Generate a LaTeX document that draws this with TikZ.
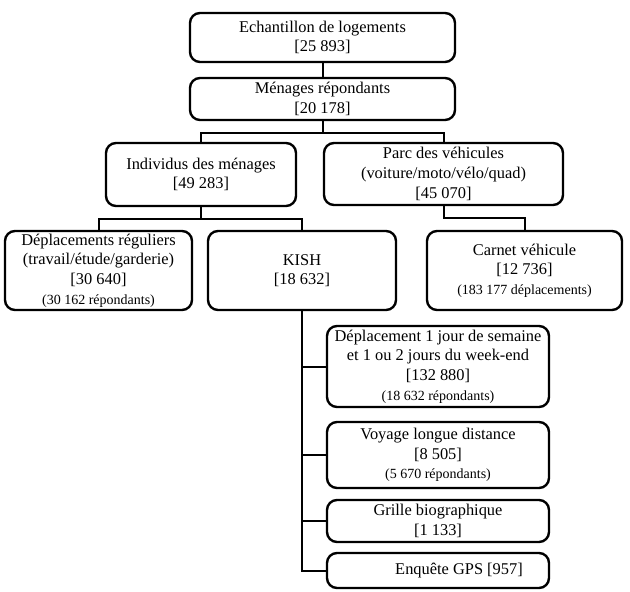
\documentclass[tikz,border=0pt]{standalone}
\usepackage{fontspec}
\setmainfont{Liberation Serif}
\usetikzlibrary{calc,positioning}
\newcommand\surveybox[6]{\node[surveynode, minimum width=#4*0.5pt, minimum height=#5*0.5pt] (#1) at (#2,#3) {#6};}
\newcommand\smalltxt[1]{{\fontsize{7}{8}\selectfont #1}}

\begin{document}
\begin{tikzpicture}[x=0.5pt, y=-0.5pt,
	surveynode/.style={draw, line width=1.2pt, rounded corners=5pt, align=center, inner sep=1pt, font=\fontsize{8.2}{9.8}\selectfont},
	link/.style={line width=1pt}]
	\useasboundingbox (0,0) rectangle (630,592);
	\surveybox{ech}{322.5}{37.5}{265}{49}{Echantillon de logements\\{}[25 893]}
	\surveybox{men}{322.5}{99}{265}{42}{Ménages répondants\\{}[20 178]}
	\surveybox{ind}{201}{174.5}{190}{63}{Individus des ménages\\{}[49 283]}
	\surveybox{parc}{443.5}{174}{239}{62}{Parc des véhicules\\(voiture/moto/vélo/quad)\\{}[45 070]}
	\surveybox{dep}{98.5}{270.5}{187}{79}{Déplacements réguliers\\(travail/étude/garderie)\\{}[30 640]\\\smalltxt{(30 162 répondants)}}
	\surveybox{kish}{302}{270.5}{188}{79}{KISH\\{}[18 632]}
	\surveybox{carnet}{524.5}{270.5}{195}{79}{Carnet véhicule\\{}[12 736]\\\smalltxt{(183 177 déplacements)}}
	\surveybox{jour}{438}{366.5}{222}{81}{Déplacement 1 jour de semaine\\et 1 ou 2 jours du week-end\\{}[132 880]\\\smalltxt{(18 632 répondants)}}
	\surveybox{voyage}{438}{455}{222}{66}{Voyage longue distance\\{}[8 505]\\\smalltxt{(5 670 répondants)}}
	\surveybox{grille}{438}{521}{222}{42}{Grille biographique\\{}[1 133]}
	\surveybox{gps}{438}{570.5}{222}{35}{\hspace*{21pt}Enquête GPS [957]}
	\draw[link] (ech) -- (men);
	\draw[link] (men.south) -- ++(0,12) coordinate (jmen);
	\draw[link] (ind.north) |- (jmen) -| (parc.north);
	\draw[link] (ind.south) -- ++(0,12) coordinate (jind);
	\draw[link] (dep.north) |- (jind) -| (kish.north);
	\draw[link] (parc.south) -- ++(0,12) -| (carnet.north);
	\foreach \leaf in {jour,voyage,grille,gps}
		\draw[link] (kish.south) |- (\leaf.west);
\end{tikzpicture}
\end{document}
